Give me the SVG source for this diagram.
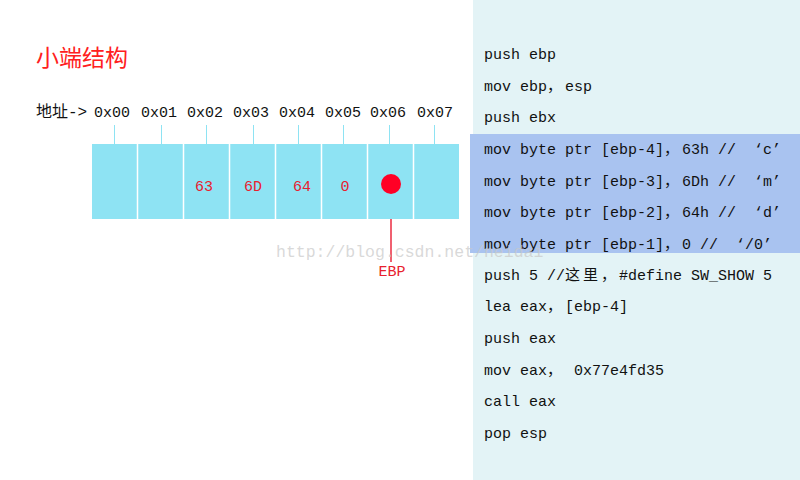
<svg xmlns="http://www.w3.org/2000/svg" width="800" height="480" viewBox="0 0 800 480">
<style>
.mono{font-family:"Liberation Mono","Noto Sans CJK SC",monospace;font-size:15px;fill:#111;white-space:pre}
.addr{font-family:"Liberation Mono","Noto Sans CJK SC",monospace;font-size:15px;fill:#111;text-anchor:middle}
.val{font-family:"Liberation Mono",monospace;font-size:15px;fill:#e8202e;text-anchor:middle}
.tick{stroke:#8ee3f3;stroke-width:1}
.sep{stroke:#ffffff;stroke-width:1.5}
</style>
<rect width="800" height="480" fill="#ffffff"/>
<rect id="code-panel" x="473" y="0" width="327" height="480" fill="#e3f3f6"/>
<rect id="highlight" x="470" y="134" width="330" height="119" fill="#a9c3f0"/>
<text x="36" y="66" font-family="'Noto Sans CJK SC',sans-serif" font-size="23" fill="#ff2020">小端结构</text>
<g id="address-row">
<text x="36" y="117" font-family="'Liberation Mono','Noto Sans CJK SC',monospace" font-size="16" fill="#111">地址-&gt;</text>
<text class="addr" x="112" y="117">0x00</text>
<text class="addr" x="159" y="117">0x01</text>
<text class="addr" x="205" y="117">0x02</text>
<text class="addr" x="251" y="117">0x03</text>
<text class="addr" x="297" y="117">0x04</text>
<text class="addr" x="343" y="117">0x05</text>
<text class="addr" x="388" y="117">0x06</text>
<text class="addr" x="435" y="117">0x07</text>
</g>
<g id="connectors">
<line class="tick" x1="114.5" y1="125" x2="114.5" y2="144"/>
<line class="tick" x1="161.5" y1="125" x2="161.5" y2="144"/>
<line class="tick" x1="206.5" y1="125" x2="206.5" y2="144"/>
<line class="tick" x1="253.5" y1="125" x2="253.5" y2="144"/>
<line class="tick" x1="298.5" y1="125" x2="298.5" y2="144"/>
<line class="tick" x1="343.5" y1="125" x2="343.5" y2="144"/>
<line class="tick" x1="389.5" y1="125" x2="389.5" y2="144"/>
<line class="tick" x1="434.5" y1="125" x2="434.5" y2="144"/>
<line x1="391" y1="192" x2="391" y2="262" stroke="#f06070" stroke-width="2"/>
</g>
<g id="memory">
<rect x="92" y="144" width="367" height="75" fill="#8ee3f3"/>
<line class="sep" x1="137.5" y1="144" x2="137.5" y2="219"/>
<line class="sep" x1="183.5" y1="144" x2="183.5" y2="219"/>
<line class="sep" x1="229.5" y1="144" x2="229.5" y2="219"/>
<line class="sep" x1="275.5" y1="144" x2="275.5" y2="219"/>
<line class="sep" x1="321.5" y1="144" x2="321.5" y2="219"/>
<line class="sep" x1="367.5" y1="144" x2="367.5" y2="219"/>
<line class="sep" x1="413.5" y1="144" x2="413.5" y2="219"/>
<text class="val" x="204" y="191">63</text>
<text class="val" x="253" y="191">6D</text>
<text class="val" x="302" y="191">64</text>
<text class="val" x="345" y="191">0</text>
</g>
<g id="ebp">
<circle cx="391" cy="184" r="10" fill="#ff0025"/>
<text class="val" x="392" y="276">EBP</text>
</g>
<g id="code">
<text class="mono" x="484" y="59">push ebp</text>
<text class="mono" x="484" y="91">mov ebp，<tspan dx="3">esp</tspan></text>
<text class="mono" x="484" y="122">push ebx</text>
<text class="mono" x="484" y="154">mov byte ptr [ebp-4]，<tspan dx="3">63h //  ‘c’</tspan></text>
<text class="mono" x="484" y="186">mov byte ptr [ebp-3]，<tspan dx="3">6Dh //  ‘m’</tspan></text>
<text class="mono" x="484" y="217">mov byte ptr [ebp-2]，<tspan dx="3">64h //  ‘d’</tspan></text>
<text class="mono" x="484" y="249">mov byte ptr [ebp-1]，<tspan dx="3">0 //  ‘/0’</tspan></text>
<text class="mono" x="484" y="280">push 5 //这<tspan dx="3">里</tspan><tspan dx="3">，</tspan><tspan dx="3">#define SW_SHOW 5</tspan></text>
<text class="mono" x="484" y="311">lea eax，<tspan dx="3">[ebp-4]</tspan></text>
<text class="mono" x="484" y="343">push eax</text>
<text class="mono" x="484" y="375">mov eax，<tspan dx="3"> 0x77e4fd35</tspan></text>
<text class="mono" x="484" y="406">call eax</text>
<text class="mono" x="484" y="438">pop esp</text>
</g>
<text x="276" y="257" font-family="'Liberation Mono',monospace" font-size="16.5" fill="#c8c8c8" fill-opacity="0.7">http://blog.csdn.net/neidai</text>
</svg>
